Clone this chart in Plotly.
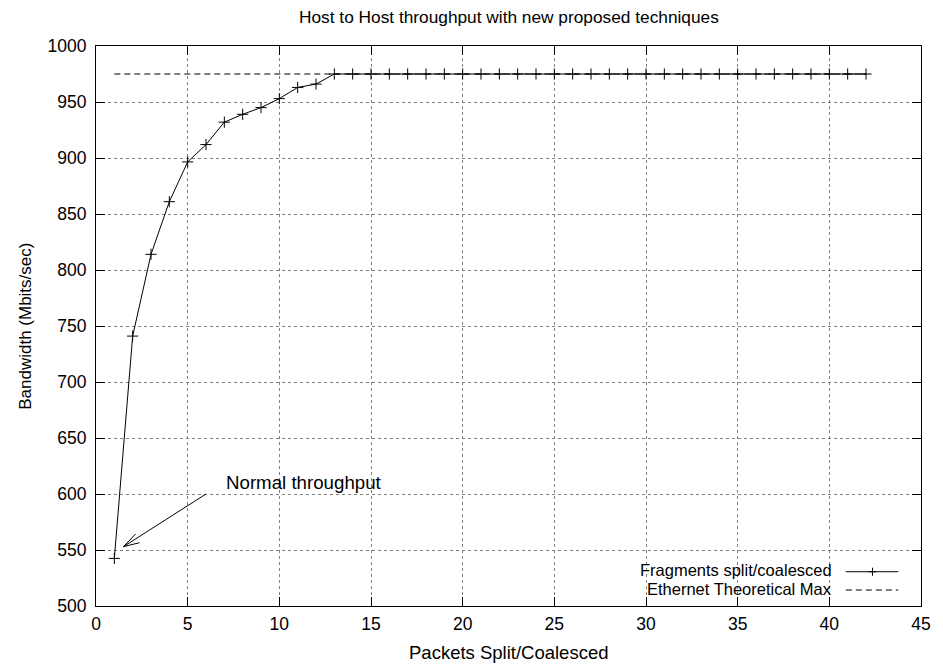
import plotly.graph_objects as go

# ---- data ----
packets = list(range(1, 43))
bandwidth = [542.5, 741, 814, 861, 896.5, 912, 932, 939, 945, 953, 963, 966] + [975] * 30
ethernet_x = [1, 42]
ethernet_max = [975, 975]

x_ticks = [0, 5, 10, 15, 20, 25, 30, 35, 40, 45]
y_ticks = [500, 550, 600, 650, 700, 750, 800, 850, 900, 950, 1000]

series_names = ["Fragments split/coalesced", "Ethernet Theoretical Max"]
title_text = "Host to Host throughput with new proposed techniques"
x_label = "Packets Split/Coalesced"
y_label = "Bandwidth (Mbits/sec)"
label_text = "Normal throughput"
label_pos = (7.0, 610)
arrow_tail = (6.0, 600)
arrow_head = (1.5, 553)

FONT = "Liberation Sans, Arial, Helvetica, sans-serif"


def f(size):
    return dict(family=FONT, size=size, color="black")


fig = go.Figure()
fig.add_trace(go.Scatter(
    x=packets, y=bandwidth, mode="lines+markers", name=series_names[0],
    line=dict(color="black", width=1),
    marker=dict(symbol="cross-thin", size=8, color="black",
                line=dict(color="black", width=1)),
    showlegend=False,
))
fig.add_trace(go.Scatter(
    x=ethernet_x, y=ethernet_max, mode="lines", name=series_names[1],
    line=dict(color="black", width=1, dash="6px,4px"),
    showlegend=False,
))

axis_common = dict(
    showline=True, linecolor="black", linewidth=1, mirror="ticks",
    ticks="inside", ticklen=9, tickcolor="black", tickwidth=1,
    showgrid=True, gridcolor="#808080", gridwidth=1, griddash="dot",
    zeroline=False, tickfont=f(17.5),
)
fig.update_xaxes(range=[0, 45], tickvals=x_ticks, ticklabelstandoff=2, **axis_common)
fig.update_yaxes(range=[500, 1000], tickvals=y_ticks, ticklabelstandoff=5, **axis_common)

annotations = [
    dict(text=title_text, x=0.5, y=1.0512, xref="paper", yref="paper",
         showarrow=False, xanchor="center", yanchor="middle", font=f(17.3)),
    dict(text=x_label, x=0.5, y=-0.0837, xref="paper", yref="paper",
         showarrow=False, xanchor="center", yanchor="middle", font=f(18.5)),
    dict(text=y_label, x=-0.0863, y=0.5, xref="paper", yref="paper",
         showarrow=False, xanchor="center", yanchor="middle", textangle=-90,
         font=f(17)),
    dict(text=label_text, x=label_pos[0], y=label_pos[1], xref="x", yref="y",
         showarrow=False, xanchor="left", yanchor="middle", font=f(18.7)),
    dict(text=series_names[0], x=0.8945, y=0.0640, xref="paper", yref="paper",
         showarrow=False, xanchor="right", yanchor="middle", font=f(16.5)),
    dict(text=series_names[1], x=0.8945, y=0.0308, xref="paper", yref="paper",
         showarrow=False, xanchor="right", yanchor="middle", font=f(16.5)),
]

# arrow from label to first point (open V head)
tx, ty = arrow_tail
hx, hy = arrow_head
shapes = [
    dict(type="line", xref="x", yref="y", x0=tx, y0=ty, x1=hx, y1=hy,
         line=dict(color="black", width=1)),
    dict(type="path", xref="x", yref="y",
         path=f"M 2.37,556.5 L {hx},{hy} L 2.16,564.3",
         line=dict(color="black", width=1)),
    # opaque key box
    dict(type="rect", xref="paper", yref="paper", x0=0.622, x1=0.988,
         y0=0.0107, y1=0.0892, fillcolor="white", line=dict(width=0),
         layer="between"),
    # key samples
    dict(type="line", xref="paper", yref="paper", x0=0.9089, x1=0.9724,
         y0=0.0612, y1=0.0612, line=dict(color="black", width=1)),
    dict(type="path", xref="paper", yref="paper",
         path="M 0.9364,0.0612 L 0.946,0.0612 M 0.9412,0.054 L 0.9412,0.0684",
         line=dict(color="black", width=1)),
    dict(type="line", xref="paper", yref="paper", x0=0.9089, x1=0.9724,
         y0=0.0285, y1=0.0285, line=dict(color="black", width=1, dash="6px,4px")),
]

fig.update_layout(
    width=943, height=664,
    margin=dict(l=96, r=13, t=46, b=58),
    plot_bgcolor="white", paper_bgcolor="white",
    font=f(16),
    annotations=annotations, shapes=shapes, showlegend=False,
)

fig.write_html(
    "out.html",
    config={"displayModeBar": False},
    post_script="document.body.style.margin='0';document.body.style.overflow='hidden';",
)
